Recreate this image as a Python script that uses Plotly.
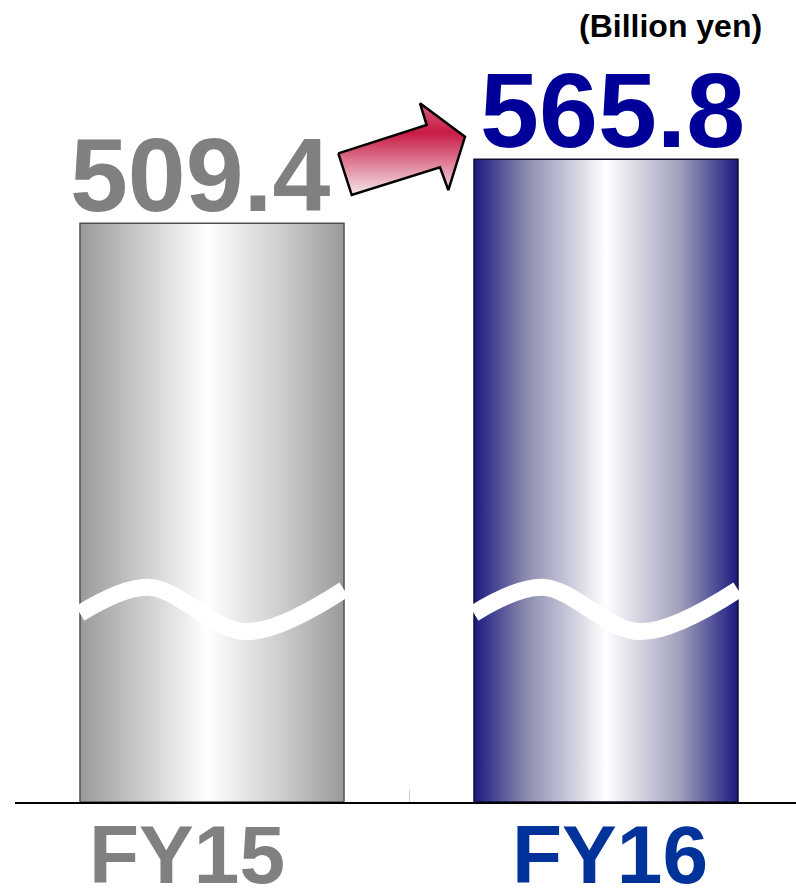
import plotly.graph_objects as go

# ---- data ----
categories = ["FY15", "FY16"]
values = [509.4, 565.8]
value_labels = ["509.4", "565.8"]
unit_label = "(Billion yen)"

# ---- styling ----
value_colors = ["#808080", "#000099"]
cat_colors = ["#808080", "#003399"]
bar_edge_colors = ["#505050", "#101030"]
bar_scales = [
    [[0, "#9a9a9a"], [0.2, "#c4c4c4"], [0.48, "#ffffff"], [0.75, "#d0d0d0"], [1, "#9a9a9a"]],
    [[0, "#1a1a80"], [0.2, "#8c8cb0"], [0.5, "#ffffff"], [0.78, "#a0a0bc"], [1, "#1a1a80"]],
]
BAR_W = 0.67
# wave break decoration (relative x across bar, y in axis units)
wave_xf = [0.0, 0.26, 0.63, 1.0]
wave_y = [166, 189, 150, 187]
# arrow decoration polygon (axis units)
arrow_x = [0.3206, 0.5449, 0.5279, 0.6421, 0.5998, 0.5787, 0.3546, 0.3206]
arrow_y = [571.0, 595.9, 615.0, 585.6, 538.7, 558.7, 534.3, 571.0]

FONT = "Liberation Sans, Arial, sans-serif"

fig = go.Figure()

for i, (cat, v) in enumerate(zip(categories, values)):
    x0, x1 = i - BAR_W / 2, i + BAR_W / 2
    fig.add_trace(go.Scatter(
        x=[x0, x1, x1, x0, x0], y=[0, 0, v, v, 0],
        mode="lines", fill="toself",
        fillgradient=dict(type="horizontal", colorscale=bar_scales[i]),
        line=dict(color=bar_edge_colors[i], width=1.5),
        hoverinfo="skip", showlegend=False,
    ))

for i in range(len(categories)):
    x0 = i - BAR_W / 2
    fig.add_trace(go.Scatter(
        x=[x0 + f * BAR_W for f in wave_xf], y=wave_y,
        mode="lines", line=dict(color="white", width=17, shape="spline", smoothing=1.0),
        hoverinfo="skip", showlegend=False,
    ))

fig.add_trace(go.Scatter(
    x=arrow_x, y=arrow_y, mode="lines", fill="toself",
    fillgradient=dict(type="vertical",
                      colorscale=[[0, "#f6e8ec"], [0.68, "#c81a45"], [1, "#d8607a"]]),
    line=dict(color="black", width=2.5),
    hoverinfo="skip", showlegend=False,
))

annotations = []
value_xshift = [-12, 6]
cat_xshift = [-25, 4]
for i, v in enumerate(values):
    annotations.append(dict(
        x=i, y=v, xref="x", yref="y", text=f"<b>{value_labels[i]}</b>",
        showarrow=False, xanchor="center", yanchor="bottom", yshift=-12,
        xshift=value_xshift[i],
        font=dict(family=FONT, size=104 if i == 0 else 106, color=value_colors[i]),
    ))
    annotations.append(dict(
        x=i, y=0, xref="x", yref="y", text=f"<b>{categories[i]}</b>",
        showarrow=False, xanchor="center", yanchor="top", yshift=-5,
        xshift=cat_xshift[i],
        font=dict(family=FONT, size=82, color=cat_colors[i]),
    ))
annotations.append(dict(
    x=(670 - 15) / 781, y=(890 - 26 - 88) / 802, xref="paper", yref="paper",
    text=f"<b>{unit_label}</b>", xanchor="center", yanchor="middle",
    showarrow=False, font=dict(family=FONT, size=32, color="black"),
))

fig.update_layout(
    width=796, height=890,
    margin=dict(l=15, r=0, t=0, b=88),
    paper_bgcolor="white", plot_bgcolor="white",
    annotations=annotations,
    xaxis=dict(range=[-0.5, -0.5 + 781 / 394], showgrid=False, zeroline=False,
               showline=True, linecolor="black", linewidth=2,
               ticks="inside", tickvals=[-0.5, 0.5], ticklen=12,
               tickcolor="#c8c8c8", tickwidth=1, showticklabels=False),
    yaxis=dict(range=[0, 802 / 1.136], visible=False),
    showlegend=False,
)

fig.write_html("out.html")
